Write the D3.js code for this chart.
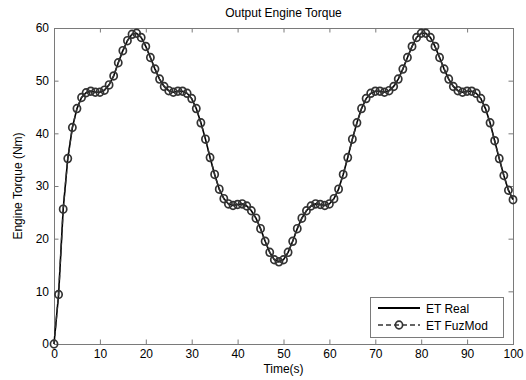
<!DOCTYPE html>
<html>
<head>
	<title>Output Engine Torque</title>
	<style>
		body { margin: 0; background: #fff; }
		text { font-family: Arial, "Liberation Sans", sans-serif; fill: #000; }
	</style>
</head>
<body>
	<svg id="container" height="380" width="526"></svg>
</body>
<script src="https://d3js.org/d3.v7.min.js"></script>
<script>
	// time axis, one sample per second
	let times = d3.range(0, 101)

	// engine torque (Nm)
	let etReal = [
		0, 9.4, 25.6, 35.2, 41.1, 44.7, 46.8, 47.7, 48.0, 47.8,
		47.8, 48.2, 49.2, 50.9, 53.4, 55.7, 57.6, 58.8, 59.0, 58.2,
		56.5, 54.4, 52.2, 50.3, 48.9, 48.1, 47.8, 48.0, 48.0, 47.6,
		46.6, 44.7, 42.0, 38.9, 35.4, 32.2, 29.4, 27.6, 26.6, 26.3,
		26.5, 26.6, 26.2, 25.3, 23.9, 21.9, 19.5, 17.4, 16.0, 15.6,
		16.0, 17.4, 19.5, 21.9, 23.9, 25.3, 26.2, 26.6, 26.5, 26.3,
		26.6, 27.6, 29.4, 32.2, 35.4, 38.9, 42.0, 44.7, 46.6, 47.6,
		48.0, 48.0, 47.8, 48.1, 48.9, 50.3, 52.2, 54.4, 56.5, 58.2,
		59.0, 59.0, 58.2, 56.5, 54.4, 52.2, 50.3, 48.9, 48.1, 47.8,
		48.0, 48.0, 47.6, 46.6, 44.7, 42.0, 38.6, 35.2, 32.0, 29.2,
		27.4
	]
	// the fuzzy model lies on top of the real curve everywhere
	let etFuzMod = etReal.slice()

	let xTicks = [0, 10, 20, 30, 40, 50, 60, 70, 80, 90, 100]
	let yTicks = [0, 10, 20, 30, 40, 50, 60]

	let svg = d3.select("#container")
	let plotL = 54, plotR = 513, plotT = 28, plotB = 344

	let x = d3.scaleLinear().domain([0, 100]).range([plotL, plotR])
	let y = d3.scaleLinear().domain([0, 60]).range([plotB, plotT])

	// axes box, ticks inside on all four sides (matlab style)
	let axisColor = "#7a7a7a"
	let tickLen = 4.5

	svg.append("g")
		.attr("transform", `translate(0,${plotB})`)
		.call(d3.axisBottom(x).tickValues(xTicks).tickSizeInner(-tickLen).tickSizeOuter(0).tickPadding(5))
		.call(g => g.select(".domain").attr("stroke", axisColor))
		.call(g => g.selectAll(".tick line").attr("stroke", axisColor))
		.call(g => g.selectAll("text").style("font-size", "12px").attr("fill", "#000"))

	svg.append("g")
		.attr("transform", `translate(0,${plotT})`)
		.call(d3.axisTop(x).tickValues(xTicks).tickSizeInner(-tickLen).tickSizeOuter(0).tickFormat(""))
		.call(g => g.select(".domain").attr("stroke", axisColor))
		.call(g => g.selectAll(".tick line").attr("stroke", axisColor))

	svg.append("g")
		.attr("transform", `translate(${plotL},0)`)
		.call(d3.axisLeft(y).tickValues(yTicks).tickSizeInner(-tickLen).tickSizeOuter(0).tickPadding(5))
		.call(g => g.select(".domain").attr("stroke", axisColor))
		.call(g => g.selectAll(".tick line").attr("stroke", axisColor))
		.call(g => g.selectAll("text").style("font-size", "12px").attr("fill", "#000"))

	svg.append("g")
		.attr("transform", `translate(${plotR},0)`)
		.call(d3.axisRight(y).tickValues(yTicks).tickSizeInner(-tickLen).tickSizeOuter(0).tickFormat(""))
		.call(g => g.select(".domain").attr("stroke", axisColor))
		.call(g => g.selectAll(".tick line").attr("stroke", axisColor))

	svg.selectAll(".domain").attr("shape-rendering", "crispEdges")

	// titles
	svg.append("text")
		.attr("x", (plotL + plotR) / 2).attr("y", 17)
		.attr("text-anchor", "middle")
		.style("font-size", "12px")
		.text("Output Engine Torque")

	svg.append("text")
		.attr("x", (plotL + plotR) / 2).attr("y", 373)
		.attr("text-anchor", "middle")
		.style("font-size", "12px")
		.text("Time(s)")

	svg.append("text")
		.attr("transform", `translate(22,${(plotT + plotB) / 2}) rotate(-90)`)
		.attr("text-anchor", "middle")
		.style("font-size", "12px")
		.text("Engine Torque (Nm)")

	// series
	let line = d3.line()
		.x((d, i) => x(times[i]))
		.y(d => y(d))

	svg.append("path")
		.datum(etReal)
		.attr("d", line)
		.attr("fill", "none")
		.attr("stroke", "#000")
		.attr("stroke-width", 1.6)

	svg.append("path")
		.datum(etFuzMod)
		.attr("d", line)
		.attr("fill", "none")
		.attr("stroke", "#333")
		.attr("stroke-width", 1.4)
		.attr("stroke-dasharray", "5,3")

	svg.append("g").selectAll("ellipse")
		.data(etFuzMod)
		.enter().append("ellipse")
		.attr("cx", (d, i) => x(times[i]))
		.attr("cy", d => y(d))
		.attr("rx", 3.6)
		.attr("ry", 3.9)
		.attr("fill", "none")
		.attr("stroke", "#333")
		.attr("stroke-width", 1.7)

	// legend
	let legend = svg.append("g")
	legend.append("rect")
		.attr("x", 370).attr("y", 297)
		.attr("width", 133).attr("height", 40)
		.attr("fill", "#fff")
		.attr("stroke", axisColor)
		.attr("shape-rendering", "crispEdges")

	legend.append("line")
		.attr("x1", 378).attr("x2", 420)
		.attr("y1", 308).attr("y2", 308)
		.attr("stroke", "#000").attr("stroke-width", 1.8)
	legend.append("text")
		.attr("x", 426).attr("y", 312.5)
		.style("font-size", "12px")
		.text("ET Real")

	legend.append("line")
		.attr("x1", 378).attr("x2", 420)
		.attr("y1", 325).attr("y2", 325)
		.attr("stroke", "#333").attr("stroke-width", 1.6)
		.attr("stroke-dasharray", "5,3")
	legend.append("ellipse")
		.attr("cx", 399).attr("cy", 325).attr("rx", 3.6).attr("ry", 3.9)
		.attr("fill", "none").attr("stroke", "#333").attr("stroke-width", 1.7)
	legend.append("text")
		.attr("x", 426).attr("y", 329.5)
		.style("font-size", "12px")
		.text("ET FuzMod")
</script>
</html>
